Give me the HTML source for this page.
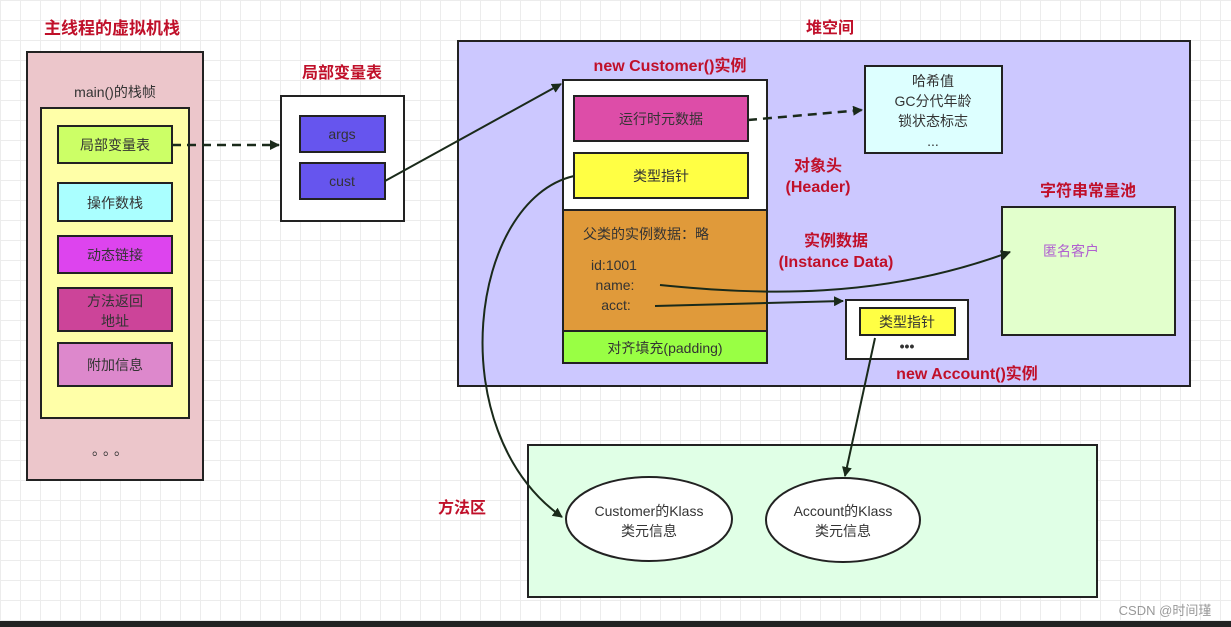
<!DOCTYPE html>
<html><head><meta charset="utf-8"><style>
body{margin:0;width:1231px;height:627px;overflow:hidden;background:#fff;
background-image:linear-gradient(#ececec 1px,transparent 1px),linear-gradient(90deg,#ececec 1px,transparent 1px);background-size:20px 20px;}
svg{position:absolute;left:0;top:0}
text{font-family:"Liberation Sans","Noto Sans CJK SC",sans-serif;font-size:14px;fill:#333;text-anchor:middle}
.t{fill:#c0102a;font-weight:bold;font-size:16px}
</style></head><body>
<svg width="1231" height="627" viewBox="0 0 1231 627">
<defs><marker id="a" markerWidth="10" markerHeight="10" refX="9" refY="5" orient="auto" markerUnits="userSpaceOnUse"><path d="M0,0 L10,5 L0,10 z" fill="#1a2a1a"/></marker></defs>
<text x="112" y="34" class="t" style="font-size:17px">主线程的虚拟机栈</text>
<rect x="27" y="52" width="176" height="428" fill="#ecc6cb" stroke="#222" stroke-width="2"/>
<text x="115" y="97">main()的栈帧</text>
<rect x="41" y="108" width="148" height="310" fill="#ffffa8" stroke="#222" stroke-width="2"/>
<rect x="58" y="126" width="114" height="37" fill="#ccff66" stroke="#222" stroke-width="2"/><text x="115" y="150">局部变量表</text>
<rect x="58" y="183" width="114" height="38" fill="#aaffff" stroke="#222" stroke-width="2"/><text x="115" y="208">操作数栈</text>
<rect x="58" y="236" width="114" height="37" fill="#dd44ee" stroke="#222" stroke-width="2"/><text x="115" y="260">动态链接</text>
<rect x="58" y="288" width="114" height="43" fill="#cc4499" stroke="#222" stroke-width="2"/><text x="115" y="306">方法返回</text><text x="115" y="326">地址</text>
<rect x="58" y="343" width="114" height="43" fill="#dd88cc" stroke="#222" stroke-width="2"/><text x="115" y="370">附加信息</text>
<text x="112" y="455" style="font-size:14px;letter-spacing:4px">。。。</text>
<text x="342" y="78" class="t">局部变量表</text>
<rect x="281" y="96" width="123" height="125" fill="#fff" stroke="#222" stroke-width="2"/>
<rect x="300" y="116" width="85" height="36" fill="#6655ee" stroke="#222" stroke-width="2"/><text x="342" y="139">args</text>
<rect x="300" y="163" width="85" height="36" fill="#6655ee" stroke="#222" stroke-width="2"/><text x="342" y="186">cust</text>
<line x1="172" y1="145" x2="279" y2="145" stroke="#1a2a1a" stroke-width="2.5" stroke-dasharray="9,6" marker-end="url(#a)"/>
<text x="830" y="33" class="t">堆空间</text>
<rect x="458" y="41" width="732" height="345" fill="#ccc8ff" stroke="#222" stroke-width="2"/>
<text x="670" y="71" class="t">new Customer()实例</text>
<rect x="563" y="80" width="204" height="130" fill="#fff" stroke="#222" stroke-width="2"/>
<rect x="563" y="210" width="204" height="121" fill="#e09a3a" stroke="#222" stroke-width="2"/>
<rect x="563" y="331" width="204" height="32" fill="#99ff44" stroke="#222" stroke-width="2"/>
<text x="665" y="353">对齐填充(padding)</text>
<rect x="574" y="96" width="174" height="45" fill="#dd4da8" stroke="#222" stroke-width="2"/><text x="661" y="124">运行时元数据</text>
<rect x="574" y="153" width="174" height="45" fill="#ffff44" stroke="#222" stroke-width="2"/><text x="661" y="181">类型指针</text>
<text x="583" y="239" style="text-anchor:start">父类的实例数据：略</text>
<text x="614" y="270">id:1001</text><text x="615" y="290">name:</text><text x="616" y="310">acct:</text>
<rect x="865" y="66" width="137" height="87" fill="#ddffff" stroke="#222" stroke-width="2"/>
<text x="933" y="86">哈希值</text><text x="933" y="106">GC分代年龄</text><text x="933" y="126">锁状态标志</text><text x="933" y="146">...</text>
<line x1="748" y1="120" x2="862" y2="110" stroke="#1a2a1a" stroke-width="2.5" stroke-dasharray="9,6" marker-end="url(#a)"/>
<text x="818" y="171" class="t">对象头</text><text x="818" y="192" class="t">(Header)</text>
<text x="836" y="246" class="t">实例数据</text><text x="836" y="267" class="t">(Instance Data)</text>
<text x="1088" y="196" class="t">字符串常量池</text>
<rect x="1002" y="207" width="173" height="128" fill="#e2ffcc" stroke="#222" stroke-width="2"/>
<text x="1071" y="256" style="fill:#b060d0">匿名客户</text>
<rect x="846" y="300" width="122" height="59" fill="#fff" stroke="#222" stroke-width="2"/>
<rect x="860" y="308" width="95" height="27" fill="#ffff44" stroke="#222" stroke-width="2"/><text x="907" y="327">类型指针</text>
<text x="907" y="351" style="font-weight:bold">•••</text>
<text x="967" y="379" class="t">new Account()实例</text>
<rect x="528" y="445" width="569" height="152" fill="#e0ffe6" stroke="#222" stroke-width="2"/>
<text x="462" y="513" class="t">方法区</text>
<ellipse cx="649" cy="519" rx="83" ry="42" fill="#fff" stroke="#222" stroke-width="2"/>
<text x="649" y="516">Customer的Klass</text><text x="649" y="536">类元信息</text>
<ellipse cx="843" cy="520" rx="77" ry="42" fill="#fff" stroke="#222" stroke-width="2"/>
<text x="843" y="516">Account的Klass</text><text x="843" y="536">类元信息</text>
<line x1="385" y1="181" x2="561" y2="84" stroke="#1a2a1a" stroke-width="2" marker-end="url(#a)"/>
<path d="M574,176 C470,200 440,430 562,517" fill="none" stroke="#1a2a1a" stroke-width="2" marker-end="url(#a)"/>
<path d="M660,285 C760,295 880,300 1010,252" fill="none" stroke="#1a2a1a" stroke-width="2" marker-end="url(#a)"/>
<line x1="655" y1="306" x2="843" y2="301" stroke="#1a2a1a" stroke-width="2" marker-end="url(#a)"/>
<line x1="875" y1="338" x2="845" y2="476" stroke="#1a2a1a" stroke-width="2" marker-end="url(#a)"/>
<text x="1165" y="615" style="fill:#999;font-size:13px">CSDN @时间瑾</text>
<rect x="0" y="621" width="1231" height="6" fill="#222"/>
</svg>
</body></html>
